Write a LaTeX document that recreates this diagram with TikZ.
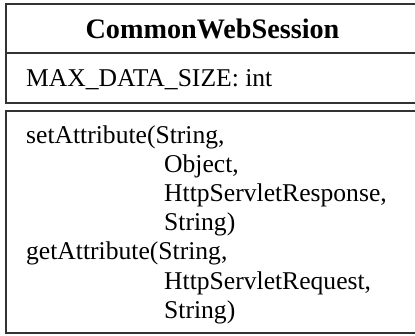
\documentclass[tikz,border=0pt]{standalone}
\usepackage{fontspec}
\setmainfont{Liberation Serif}
\begin{document}
\begin{tikzpicture}[x=1pt,y=-1pt,
  frame/.style={draw=black!80,line width=2pt},
  txt/.style={inner sep=0pt,anchor=base west,font=\fontsize{25.6}{29.1}\selectfont},
  ttl/.style={inner sep=0pt,anchor=base,font=\fontsize{28.2}{32}\selectfont\bfseries}]
\useasboundingbox (0,0) rectangle (415,335);
% class header + attributes
\draw[frame] (430,4) -- (5.5,4) -- (5.5,102.5) -- (430,102.5);
\draw[frame] (5.5,53) -- (430,53);
% operations
\draw[frame] (430,110.5) -- (5.5,110.5) -- (5.5,333) -- (430,333);
\node[ttl] (title) at (212.5,38) {CommonWebSession};
\node[txt] (attr) at (26,86.5) {MAX\_DATA\_SIZE: int};
\node[txt] (m1) at (26,143.5) {setAttribute(String,};
\node[txt] (m1a) at (164,172.6) {Object,};
\node[txt] (m1b) at (164,201.7) {HttpServletResponse,};
\node[txt] (m1c) at (164,230.8) {String)};
\node[txt] (m2) at (26,259.9) {getAttribute(String,};
\node[txt] (m2a) at (164,289) {HttpServletRequest,};
\node[txt] (m2b) at (164,318.1) {String)};
\end{tikzpicture}
\end{document}
